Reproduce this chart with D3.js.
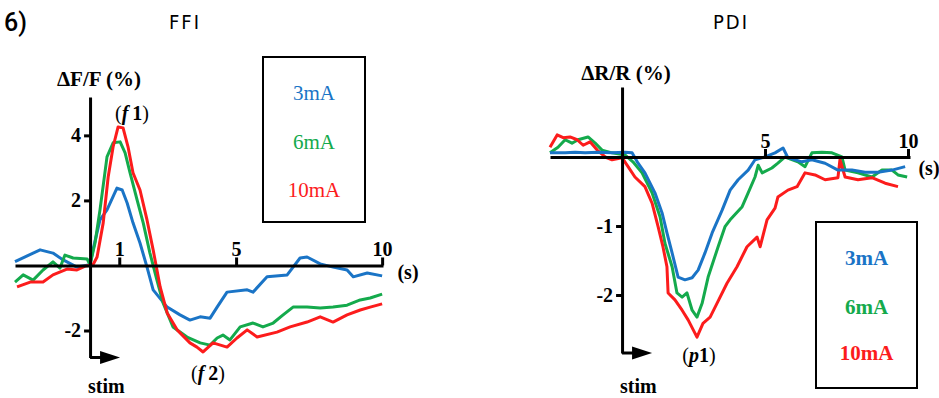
<!DOCTYPE html>
<html>
<head>
<meta charset="utf-8">
<script src="https://cdn.jsdelivr.net/npm/d3@7"></script>
<style>
  body { margin: 0; background: #fff; }
  svg { display: block; }
</style>
</head>
<body>
<div id="chart"></div>
<script>
const seriesNames = ["3mA", "6mA", "10mA"];
const seriesColors = ["#1a74c6", "#14aa4c", "#fc1c1c"];

const ffiXTicks = [1, 5, 10];
const ffiYTicks = [4, 2, -2];
const pdiXTicks = [5, 10];
const pdiYTicks = [-1, -2];

// [time (s), value (%)]
const ffi3mA = [[-2.57,0.12],[-1.71,0.48],[-1.27,0.38],[-0.92,0.17],[-0.45,-0.05],[0,0.02],[0.1,0.48],[0.34,1.4],[0.58,1.71],[0.92,2.38],[1.1,2.32],[1.27,1.92],[1.47,1.31],[1.71,0.69],[1.95,-0.05],[2.16,-0.75],[2.64,-1.28],[3.08,-1.52],[3.42,-1.68],[3.77,-1.58],[4.11,-1.62],[4.35,-1.28],[4.69,-0.82],[5.38,-0.75],[5.58,-0.82],[6.06,-0.35],[6.75,-0.29],[7.19,0.23],[7.43,0.26],[7.88,0.05],[8.32,-0.05],[8.8,-0.14],[9.01,-0.35],[9.49,-0.23],[10.0,-0.32]];
const ffi6mA = [[-2.57,-0.51],[-2.29,-0.29],[-1.95,-0.45],[-1.61,-0.14],[-1.27,0.11],[-1.03,-0.08],[-0.86,0.32],[-0.58,0.23],[-0.1,0.2],[0,0.02],[0.17,0.69],[0.34,1.71],[0.58,3.34],[0.79,3.77],[1.03,3.8],[1.2,3.46],[1.37,2.85],[1.61,2.02],[1.82,1.31],[2.05,0.38],[2.29,-0.45],[2.5,-1.15],[2.84,-1.89],[3.32,-2.2],[3.77,-2.38],[4.11,-2.45],[4.35,-2.23],[4.55,-2.14],[4.79,-2.29],[5.14,-1.89],[5.58,-1.77],[5.92,-1.89],[6.27,-1.77],[6.61,-1.52],[6.95,-1.28],[7.43,-1.28],[7.88,-1.31],[8.32,-1.28],[8.8,-1.22],[9.25,-1.06],[9.59,-1.0],[10.0,-0.88]];
const ffi10mA = [[-2.5,-0.66],[-2.05,-0.51],[-1.61,-0.51],[-1.27,-0.29],[-0.79,-0.11],[-0.45,-0.14],[-0.17,-0.02],[0.1,0.02],[0.24,0.26],[0.45,1.31],[0.62,2.72],[0.79,3.65],[0.96,4.26],[1.13,4.23],[1.3,3.65],[1.47,2.85],[1.71,2.32],[1.95,1.4],[2.16,0.48],[2.4,-0.66],[2.64,-1.46],[2.98,-1.98],[3.42,-2.38],[3.66,-2.51],[3.87,-2.66],[4.21,-2.38],[4.69,-2.51],[5.03,-2.23],[5.38,-1.98],[5.72,-2.2],[6.4,-2.05],[6.85,-1.89],[7.43,-1.74],[7.88,-1.58],[8.32,-1.74],[8.8,-1.52],[9.25,-1.37],[9.59,-1.28],[10.0,-1.18]];

const pdi3mA = [[-2.52,0.06],[-1.99,0.06],[-1.64,0.07],[-1.29,0.06],[-0.84,0.07],[-0.35,0.06],[0.1,0.07],[0.35,0.06],[0.56,-0.09],[0.8,-0.23],[1.15,-0.52],[1.4,-0.81],[1.57,-1.1],[1.75,-1.39],[1.96,-1.74],[2.2,-1.78],[2.45,-1.75],[2.66,-1.64],[2.9,-1.39],[3.15,-1.1],[3.5,-0.77],[3.78,-0.48],[4.06,-0.33],[4.41,-0.19],[4.65,-0.04],[5.0,0],[5.35,0.06],[5.63,0.13],[5.8,-0.01],[6.29,-0.07],[6.64,-0.04],[7.1,-0.09],[7.55,-0.19],[8.04,-0.19],[8.5,-0.22],[8.95,-0.22],[9.44,-0.19],[9.9,-0.14]];
const pdi6mA = [[-2.52,0.06],[-2.24,0.14],[-1.99,0.25],[-1.75,0.2],[-1.54,0.25],[-1.19,0.29],[-0.94,0.2],[-0.7,0.1],[-0.35,0.06],[0.1,0.03],[0.38,-0.07],[0.7,-0.23],[1.05,-0.52],[1.33,-0.87],[1.5,-1.25],[1.75,-1.59],[1.92,-1.97],[2.1,-2.03],[2.27,-1.97],[2.45,-2.22],[2.62,-2.32],[2.8,-2.12],[3.01,-1.74],[3.36,-1.3],[3.6,-1.01],[3.78,-0.91],[4.2,-0.72],[4.41,-0.52],[4.65,-0.29],[4.76,-0.12],[4.9,-0.23],[5.24,-0.16],[5.45,-0.09],[5.7,0],[6.15,-0.07],[6.4,-0.14],[6.64,0.06],[6.99,0.07],[7.34,0.06],[7.69,0],[7.8,-0.19],[8.25,-0.23],[8.74,-0.29],[9.09,-0.19],[9.44,-0.19],[9.65,-0.26],[9.97,-0.29]];
const pdi10mA = [[-2.52,0.14],[-2.27,0.32],[-2.06,0.28],[-1.82,0.29],[-1.57,0.25],[-1.36,0.17],[-1.12,0.22],[-0.87,0.1],[-0.59,0],[-0.35,-0.04],[0,-0.01],[0.21,-0.14],[0.45,-0.29],[0.8,-0.43],[1.05,-0.67],[1.26,-1.01],[1.43,-1.3],[1.57,-1.59],[1.61,-1.97],[1.85,-2.07],[2.1,-2.22],[2.31,-2.36],[2.62,-2.61],[2.83,-2.41],[3.08,-2.32],[3.32,-2.12],[3.67,-1.83],[4.02,-1.59],[4.37,-1.3],[4.72,-1.16],[4.83,-1.3],[5.07,-0.91],[5.35,-0.74],[5.45,-0.58],[5.8,-0.48],[6.12,-0.43],[6.4,-0.23],[6.75,-0.26],[7.1,-0.33],[7.55,-0.3],[7.62,-0.04],[7.8,-0.29],[8.25,-0.33],[8.74,-0.3],[9.2,-0.38],[9.65,-0.43]];

const W = 939, H = 398;
const serif = "'Liberation Serif', 'Times New Roman', serif";
const sans = "'DejaVu Sans Condensed', 'DejaVu Sans', sans-serif";

const svg = d3.select("#chart").append("svg")
  .attr("width", W).attr("height", H)
  .attr("viewBox", `0 0 ${W} ${H}`);

svg.append("text").text("6)")
  .attr("x", 4).attr("y", 31)
  .attr("font-family", "Roboto, 'Liberation Sans', sans-serif")
  .attr("font-weight", 500).attr("font-size", 25);

// plain hyphen for negatives, as in the figure
const fmt = d => (d < 0 ? "-" : "") + Math.abs(d);

const panels = [
  {
    title: "FFI", titleX: 185,
    series: [ffi3mA, ffi6mA, ffi10mA], order: [0, 1, 2],
    xTicks: ffiXTicks, yTicks: ffiYTicks,
    xDomain: [-2.57, 10.03], xRange: [15, 383],
    yDomain: [-2.83, 5.18], yRange: [357.5, 97],
    yLabel: "ΔF/F (%)", yLabelX: 99, yLabelY: 86,
    peaks: [{ letter: "f", num: "1", x: 132, y: 120 }, { letter: "f", num: "2", x: 208, y: 380 }],
    sX: 408, sY: 279,
    legend: { x: 263, y: 57, w: 102, h: 165, rows: [93, 142, 190], bold: false }
  },
  {
    title: "PDI", titleX: 731,
    series: [pdi3mA, pdi6mA, pdi10mA], order: [1, 2, 0],
    xTicks: pdiXTicks, yTicks: pdiYTicks,
    xDomain: [-2.52, 10.07], xRange: [550, 910],
    yDomain: [-2.84, 1.014], yRange: [353, 87],
    yLabel: "ΔR/R (%)", yLabelX: 626, yLabelY: 80,
    peaks: [{ letter: "p", num: "1", x: 699, y: 362 }],
    sX: 929, sY: 175,
    legend: { x: 816, y: 222, w: 101, h: 166, rows: [258, 307, 353], bold: true }
  }
];

panels.forEach(p => {
  const x = d3.scaleLinear().domain(p.xDomain).range(p.xRange);
  const y = d3.scaleLinear().domain(p.yDomain).range(p.yRange);
  const g = svg.append("g");
  const x0 = x(0), y0 = y(0);

  g.append("text").text(p.title)
    .attr("x", p.titleX).attr("y", 29)
    .attr("text-anchor", "middle")
    .attr("font-family", sans).attr("font-size", 20)
    .attr("letter-spacing", 2);

  // traces
  const line = d3.line().x(d => x(d[0])).y(d => y(d[1]));
  p.order.forEach(i => {
    g.append("path")
      .datum(p.series[i])
      .attr("d", line)
      .attr("fill", "none")
      .attr("stroke", seriesColors[i])
      .attr("stroke-width", 3)
      .attr("stroke-linejoin", "round");
  });

  // x axis with upward ticks
  const xAxis = g.append("g")
    .attr("transform", `translate(0,${y0})`)
    .call(d3.axisTop(x).tickValues(p.xTicks).tickFormat(fmt)
      .tickSize(8).tickPadding(1).tickSizeOuter(0));
  // y axis with ticks on the left
  const yAxis = g.append("g")
    .attr("transform", `translate(${x0},0)`)
    .call(d3.axisLeft(y).tickValues(p.yTicks).tickFormat(fmt)
      .tickSize(6).tickPadding(3).tickSizeOuter(0));

  [xAxis, yAxis].forEach(a => {
    a.select(".domain").attr("stroke", "#000").attr("stroke-width", 3);
    a.selectAll(".tick line").attr("stroke", "#000").attr("stroke-width", 3);
    a.selectAll(".tick text")
      .attr("fill", "#000")
      .attr("font-family", serif).attr("font-weight", "bold").attr("font-size", 20);
  });

  // stimulus arrow at the foot of the y axis
  const sy = p.yRange[0];
  g.append("line")
    .attr("x1", x0).attr("x2", x0 + 12).attr("y1", sy).attr("y2", sy)
    .attr("stroke", "#000").attr("stroke-width", 3);
  g.append("path")
    .attr("d", `M${x0 + 10},${sy - 6.5}L${x0 + 30},${sy}L${x0 + 10},${sy + 6.5}Z`)
    .attr("fill", "#000");
  g.append("text").text("stim")
    .attr("x", x0 - 2).attr("y", 393)
    .attr("font-family", serif).attr("font-weight", "bold").attr("font-size", 20);

  g.append("text").text(p.yLabel)
    .attr("x", p.yLabelX).attr("y", p.yLabelY)
    .attr("text-anchor", "middle")
    .attr("font-family", serif).attr("font-weight", "bold").attr("font-size", 21);

  g.append("text").text("(s)")
    .attr("x", p.sX).attr("y", p.sY)
    .attr("text-anchor", "middle")
    .attr("font-family", serif).attr("font-weight", "bold").attr("font-size", 20);

  p.peaks.forEach(k => {
    const t = g.append("text")
      .attr("x", k.x).attr("y", k.y)
      .attr("text-anchor", "middle")
      .attr("font-family", serif).attr("font-size", 20);
    t.append("tspan").text("(");
    t.append("tspan").text(k.letter).attr("font-style", "italic").attr("font-weight", "bold");
    t.append("tspan").text(k.letter === "f" ? "\u2009" + k.num : k.num).attr("font-weight", "bold");
    t.append("tspan").text(")");
  });

  // legend box
  const L = p.legend;
  g.append("rect")
    .attr("x", L.x).attr("y", L.y).attr("width", L.w).attr("height", L.h)
    .attr("fill", "none").attr("stroke", "#000").attr("stroke-width", 2);
  seriesNames.forEach((name, i) => {
    g.append("text").text(name)
      .attr("x", L.x + L.w / 2).attr("y", L.rows[i])
      .attr("dy", "0.35em")
      .attr("text-anchor", "middle")
      .attr("fill", seriesColors[i])
      .attr("font-family", serif)
      .attr("font-weight", L.bold ? "bold" : "normal")
      .attr("font-size", 21);
  });
});
</script>
</body>
</html>
